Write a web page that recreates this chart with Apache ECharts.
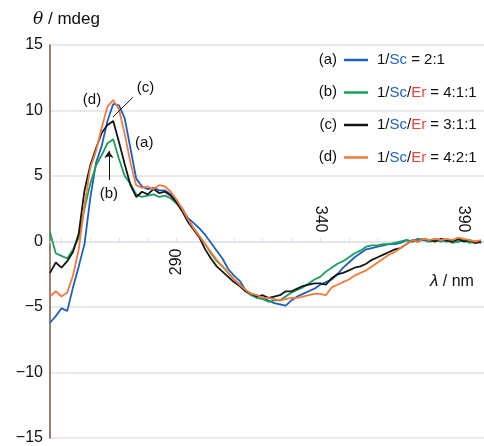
<!DOCTYPE html>
<html>
<head>
<meta charset="utf-8">
<title>cd_spectra</title>
<script src="https://cdn.jsdelivr.net/npm/echarts@6.0.0/dist/echarts.min.js"></script>
<style>
  html, body { margin: 0; padding: 0; background: #fff; }
  #main { width: 484px; height: 446px; }
</style>
</head>
<body>
<div id="main"></div>
<script>
// wavelength (nm) shared by all four spectra
var wavelength = [246, 248, 250, 252, 254, 256, 258, 260, 262, 264, 266, 268, 270, 272, 274, 276, 278, 280, 282, 284,
  286, 288, 290, 292, 294, 296, 298, 300, 302, 304, 306, 308, 310, 312, 314, 316, 318, 320, 322, 324,
  326, 328, 330, 332, 334, 336, 338, 340, 342, 344, 346, 348, 350, 352, 354, 356, 358, 360, 362, 364,
  366, 368, 370, 372, 374, 376, 378, 380, 382, 384, 386, 388, 390, 392, 394, 396];

// theta / mdeg
var curveA = [-6.2, -5.7, -5.1, -5.3, -3.5, -1.9, -0.2, 3.3, 6.0, 7.3, 9.2, 10.5, 10.4, 9.4, 7.1, 4.8, 4.2, 4.0, 4.1, 3.9,
  3.9, 3.6, 3.1, 2.5, 1.8, 1.4, 1.0, 0.5, -0.1, -0.7, -1.3, -2.1, -2.6, -3.0, -3.7, -4.0, -4.1, -4.3, -4.5, -4.7,
  -4.8, -4.9, -4.5, -4.2, -4.0, -3.8, -3.6, -3.3, -3.1, -2.9, -2.5, -2.0, -1.6, -1.2, -0.9, -0.6, -0.5, -0.4, -0.3, -0.2,
  -0.2, -0.1, 0.1, 0.0, 0.2, 0.1, 0.0, 0.2, 0.1, 0.0, 0.1, 0.0, 0.1, 0.0, -0.1, 0.0];
var curveB = [0.7, -0.9, -1.1, -1.3, -0.6, 0.3, 2.5, 4.4, 5.8, 6.6, 7.5, 7.8, 6.3, 5.0, 4.4, 3.6, 3.4, 3.5, 3.6, 3.4,
  3.5, 3.3, 2.9, 2.4, 1.7, 1.0, 0.4, -0.2, -0.9, -1.5, -1.9, -2.4, -2.9, -3.3, -3.8, -4.1, -4.3, -4.4, -4.6, -4.5,
  -4.5, -4.2, -3.9, -3.7, -3.5, -3.2, -2.9, -2.7, -2.3, -2.0, -1.7, -1.5, -1.2, -0.9, -0.7, -0.4, -0.3, -0.3, -0.2, -0.2,
  -0.1, 0.0, 0.1, 0.0, 0.1, 0.2, 0.0, 0.1, 0.0, 0.1, -0.1, 0.0, 0.1, -0.1, 0.0, -0.1];
var curveC = [-2.4, -1.6, -2.0, -1.5, -0.8, 0.6, 3.9, 5.8, 7.1, 8.3, 8.9, 9.2, 7.6, 5.9, 4.3, 3.4, 3.8, 3.6, 4.0, 3.7,
  3.8, 3.5, 3.0, 2.3, 1.5, 0.9, 0.3, -0.6, -1.3, -1.9, -2.3, -2.7, -3.1, -3.4, -3.8, -4.0, -4.2, -4.1, -4.3, -4.2,
  -4.1, -3.8, -3.8, -3.6, -3.4, -3.3, -3.2, -3.2, -3.3, -2.8, -2.5, -2.4, -2.2, -2.0, -1.9, -1.7, -1.4, -1.2, -1.0, -0.8,
  -0.6, -0.5, -0.2, 0.1, 0.0, 0.2, 0.1, 0.0, 0.2, 0.1, 0.0, 0.2, 0.0, 0.1, -0.1, 0.0];
var curveD = [-4.2, -3.8, -4.2, -3.9, -2.6, -0.6, 2.8, 5.6, 6.9, 8.7, 10.3, 10.8, 10.1, 8.2, 6.0, 4.3, 4.1, 4.2, 4.0, 4.3,
  4.2, 3.8, 3.2, 2.5, 1.7, 1.0, 0.4, -0.2, -0.8, -1.4, -1.9, -2.4, -2.9, -3.3, -3.7, -4.0, -4.1, -4.3, -4.3, -4.4,
  -4.5, -4.4, -4.3, -4.3, -4.2, -4.1, -4.0, -4.0, -4.1, -3.5, -3.3, -3.1, -2.9, -2.6, -2.4, -2.2, -1.9, -1.6, -1.3, -1.0,
  -0.8, -0.5, -0.2, 0.1, 0.0, 0.2, 0.1, 0.2, 0.1, 0.2, 0.1, 0.3, 0.2, 0.1, 0.0, 0.1];

var yTicks = [-15, -10, -5, 0, 5, 10, 15];
var xLabelsBelow = [290];
var xLabelsAbove = [340, 390];
var xMinor = [250, 260, 270, 280, 290, 300, 310, 320, 330, 340, 350, 360, 370, 380, 390];

var seriesNames = ['(a)', '(b)', '(c)', '(d)'];
var legendTexts = ['1/{sc|Sc} = 2:1', '1/{sc|Sc}/{er|Er} = 4:1:1', '1/{sc|Sc}/{er|Er} = 3:1:1', '1/{sc|Sc}/{er|Er} = 4:2:1'];
var colors = ['#1d5fbf', '#17a05c', '#161616', '#f47a3a'];

// curve call-outs in data units [nm, mdeg]
var tagD = [260.6, 10.8];
var tagC = [279.2, 11.7];
var tagA = [278.8, 7.5];
var tagB = [266.5, 3.6];
var pointerC = [[274.8, 11.0], [267.9, 9.5]];
var pointerB = [[266.5, 4.7], [266.5, 6.9]];

var FONT = 'Liberation Sans';
var GRID_TOP = 45, GRID_BOTTOM = 8, HEIGHT = 446;
// y range is symmetric, so the zero line sits half way down the plot
var zeroShift = -(HEIGHT - GRID_TOP - GRID_BOTTOM) / 2;

function pairs(ys) {
  return wavelength.map(function (w, i) { return [w, ys[i]]; });
}

function tag(text, at) {
  return { coord: at, value: text };
}

var myChart = echarts.init(document.getElementById('main'));

var tagLabel = {
  show: true, position: 'inside', color: '#111', fontSize: 15, fontFamily: FONT,
  formatter: function (p) { return p.value; }
};

var option = {
  animation: false,
  grid: { left: 50, right: 0, top: GRID_TOP, bottom: GRID_BOTTOM, outerBoundsMode: 'none', containLabel: false },
  legend: {
    orient: 'vertical',
    left: 344,
    top: 52,
    padding: 0,
    itemGap: 16.5,
    icon: 'rect',
    itemWidth: 24,
    itemHeight: 2.5,
    selectedMode: false,
    data: seriesNames,
    formatter: function (name) { return legendTexts[seriesNames.indexOf(name)]; },
    textStyle: {
      fontFamily: FONT, fontSize: 15, color: '#111', lineHeight: 16, padding: [0, 0, 0, 4],
      rich: {
        sc: { fontFamily: FONT, fontSize: 15, color: '#1d62c4', lineHeight: 16 },
        er: { fontFamily: FONT, fontSize: 15, color: '#e8453c', lineHeight: 16 }
      }
    }
  },
  xAxis: [
    {
      type: 'value', position: 'bottom', offset: zeroShift, min: 246, max: 397,
      axisLine: { onZero: false, lineStyle: { color: '#dfe4ea', width: 1.5 } },
      axisTick: { show: true, inside: true, length: 3, customValues: xMinor, lineStyle: { color: '#d6dce3' } },
      axisLabel: { rotate: 90, margin: 7, customValues: xLabelsBelow, color: '#111', fontSize: 16, fontFamily: FONT },
      splitLine: { show: false }
    },
    {
      type: 'value', position: 'top', offset: zeroShift, min: 246, max: 397,
      axisLine: { onZero: false, show: false },
      axisTick: { show: false },
      axisLabel: { rotate: 90, margin: 9, customValues: xLabelsAbove, color: '#111', fontSize: 16, fontFamily: FONT },
      splitLine: { show: false }
    }
  ],
  yAxis: {
    type: 'value', min: -15, max: 15, interval: 5,
    axisLine: { show: true, onZero: false, lineStyle: { color: '#7a5540', width: 1.5 } },
    axisTick: { show: false },
    axisLabel: {
      margin: 7, color: '#111', fontSize: 16, fontFamily: FONT,
      customValues: yTicks,
      formatter: function (v) { return v < 0 ? '\u2212' + Math.abs(v) : String(v); }
    },
    splitLine: { show: true, lineStyle: { color: '#dfe4ea', width: 1.5 } }
  },
  graphic: [
    {
      type: 'text', left: 33, top: 11,
      style: {
        text: '{i|θ} / mdeg', fill: '#111', font: '17px ' + FONT,
        rich: { i: { fontStyle: 'italic', fontFamily: 'DejaVu Serif', fontSize: 17, fill: '#111' } }
      }
    },
    {
      type: 'text', left: 430, top: 273,
      style: {
        text: '{i|λ} / nm', fill: '#111', font: '16px ' + FONT,
        rich: { i: { fontStyle: 'italic', fontFamily: FONT, fontSize: 17, fill: '#111' } }
      }
    },
    { type: 'text', right: 147, top: 52, style: { text: '(a)', fill: '#111', font: '15px ' + FONT } },
    { type: 'text', right: 147, top: 84.5, style: { text: '(b)', fill: '#111', font: '15px ' + FONT } },
    { type: 'text', right: 147, top: 117, style: { text: '(c)', fill: '#111', font: '15px ' + FONT } },
    { type: 'text', right: 147, top: 149.5, style: { text: '(d)', fill: '#111', font: '15px ' + FONT } }
  ],
  series: [
    {
      name: '(a)', type: 'line', showSymbol: false, data: pairs(curveA),
      lineStyle: { color: colors[0], width: 1.8 }, itemStyle: { color: colors[0] },
      markPoint: { symbolSize: 0, label: tagLabel, data: [tag('(a)', tagA)] }
    },
    {
      name: '(b)', type: 'line', showSymbol: false, data: pairs(curveB),
      lineStyle: { color: colors[1], width: 1.8 }, itemStyle: { color: colors[1] },
      markPoint: { symbolSize: 0, label: tagLabel, data: [tag('(b)', tagB)] },
      markLine: {
        silent: true, symbol: ['none', 'arrow'], symbolSize: 7, label: { show: false },
        lineStyle: { color: '#111', width: 1, type: 'solid' },
        data: [[{ coord: pointerB[0] }, { coord: pointerB[1] }]]
      }
    },
    {
      name: '(c)', type: 'line', showSymbol: false, data: pairs(curveC),
      lineStyle: { color: colors[2], width: 1.8 }, itemStyle: { color: colors[2] },
      markPoint: { symbolSize: 0, label: tagLabel, data: [tag('(c)', tagC)] },
      markLine: {
        silent: true, symbol: ['none', 'none'], label: { show: false },
        lineStyle: { color: '#111', width: 1, type: 'solid' },
        data: [[{ coord: pointerC[0] }, { coord: pointerC[1] }]]
      }
    },
    {
      name: '(d)', type: 'line', showSymbol: false, data: pairs(curveD),
      lineStyle: { color: colors[3], width: 1.8 }, itemStyle: { color: colors[3] },
      markPoint: { symbolSize: 0, label: tagLabel, data: [tag('(d)', tagD)] }
    }
  ]
};
myChart.setOption(option);
</script>
</body>
</html>
